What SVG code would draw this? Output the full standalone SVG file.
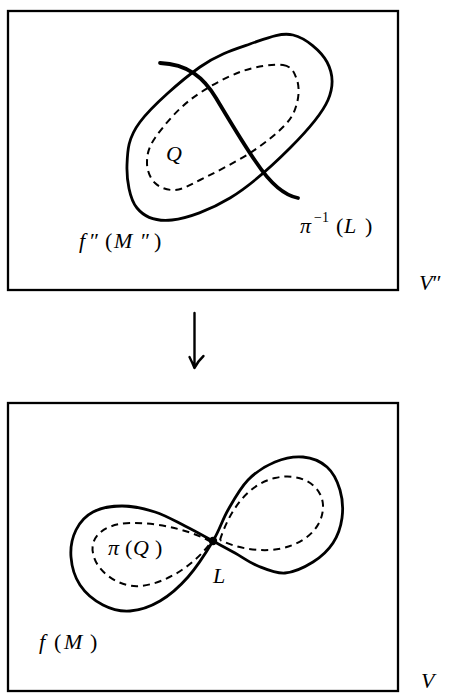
<svg xmlns="http://www.w3.org/2000/svg" width="451" height="693" viewBox="0 0 451 693">
<style>
.box{fill:none;stroke:#000;stroke-width:2.3}
.solid{fill:none;stroke:#000;stroke-width:2.8;stroke-linejoin:round;stroke-linecap:round}
.thick{fill:none;stroke:#000;stroke-width:3.8;stroke-linecap:round}
.dash{fill:none;stroke:#000;stroke-width:2;stroke-dasharray:7 5}
text{font-family:'Liberation Serif','DejaVu Serif',serif;font-size:22px;fill:#000}
.i{font-style:italic}
</style>
<rect width="451" height="693" fill="#fff"/>
<g id="top-panel">
<rect class="box" x="8" y="11" width="390" height="279"/>
<path class="solid" d="M293,35 C305.8,38 321.2,51.2 327,62 C332.8,72.8 334.2,85.7 328,100 C321.8,114.3 306.3,131.7 290,148 C273.7,164.3 249.7,186 230,198 C210.3,210 187.5,218.3 172,220 C156.5,221.7 144.5,217.2 137,208 C129.5,198.8 126.5,179.3 127,165 C127.5,150.7 127.8,138.3 140,122 C152.2,105.7 181.7,80 200,67 C218.3,54 234.5,49.3 250,44 C265.5,38.7 280.2,32 293,35 Z"/>
<path class="dash" d="M283,65 C292.5,66.3 294.7,73.7 297,80 C299.3,86.3 299,95.5 297,103 C295,110.5 292.8,116.7 285,125 C277.2,133.3 264.2,143.8 250,153 C235.8,162.2 212.5,173.8 200,180 C187.5,186.2 182.5,189.5 175,190 C167.5,190.5 159.7,187.5 155,183 C150.3,178.5 147,170.5 147,163 C147,155.5 147.8,148.5 155,138 C162.2,127.5 175.8,111 190,100 C204.2,89 224.5,77.8 240,72 C255.5,66.2 273.5,63.7 283,65 Z"/>
<path class="thick" d="M160,63 C188,64 204,78 216,98 C228,118 244,145 256,162 C268,180 282,195 298,198"/>
<text y="161"><tspan class="i" x="166">Q</tspan></text>
<text y="248"><tspan class="i" x="79">f</tspan><tspan x="90">″</tspan><tspan x="105">(</tspan><tspan class="i" x="114">M</tspan><tspan x="141">″</tspan><tspan x="154">)</tspan></text>
<text y="233"><tspan class="i" x="300">π</tspan><tspan x="314" y="222" style="font-size:14px">−1</tspan><tspan x="336" y="233">(</tspan><tspan class="i" x="344">L</tspan><tspan x="365">)</tspan></text>
<text x="419" y="290"><tspan class="i">V</tspan><tspan>″</tspan></text>
</g>
<g id="connectors">
<path class="solid" style="stroke-width:2.4" d="M194.5,313 L194.5,368 M189.5,357 Q192.5,363 194.5,368 Q198,361 203.5,356"/>
</g>
<g id="bottom-panel">
<rect class="box" x="8" y="403" width="390" height="288"/>
<path class="solid" d="M213,541 C204.7,536.5 194.7,530.8 185,526 C175.3,521.2 165.5,515.3 155,512 C144.5,508.7 132.3,506 122,506 C111.7,506 100.7,508 93,512 C85.3,516 79.7,522.5 76,530 C72.3,537.5 70.3,547.8 71,557 C71.7,566.2 74.7,577 80,585 C85.3,593 94.7,600.7 103,605 C111.3,609.3 120.5,611.7 130,611 C139.5,610.3 150.3,606.7 160,601 C169.7,595.3 179.2,587 188,577 C196.8,567 206.3,552.2 213,541 C219.7,529.8 222.2,520.2 228,510 C233.8,499.8 240.2,488 248,480 C255.8,472 265.8,465.8 275,462 C284.2,458.2 294.3,456.2 303,457 C311.7,457.8 320.8,461.5 327,467 C333.2,472.5 337.5,481.5 340,490 C342.5,498.5 343.2,509.2 342,518 C340.8,526.8 337.8,535.7 333,543 C328.2,550.3 321,557 313,562 C305,567 294.2,572.3 285,573 C275.8,573.7 266.3,569.3 258,566 C249.7,562.7 242.5,557.2 235,553 C227.5,548.8 221.3,545.5 213,541 Z"/>
<path class="dash" d="M211,542 C195,532 160,522 130,523 C100,524 90,540 93,553 C96,572 120,588 140,586 C165,584 195,565 211,542"/>
<path class="dash" d="M220,540 C228,515 245,485 275,478 C300,472 322,485 323,505 C324,530 300,548 270,550 C250,551 232,546 220,540"/>
<circle cx="213" cy="541" r="4.2" fill="#000"/>
<text y="555"><tspan class="i" x="108">π</tspan><tspan x="125">(</tspan><tspan class="i" x="133">Q</tspan><tspan x="155">)</tspan></text>
<text class="i" x="213" y="583">L</text>
<text y="649"><tspan class="i" x="39">f</tspan><tspan x="54">(</tspan><tspan class="i" x="64">M</tspan><tspan x="90">)</tspan></text>
<text class="i" x="421" y="688">V</text>
</g>
</svg>
